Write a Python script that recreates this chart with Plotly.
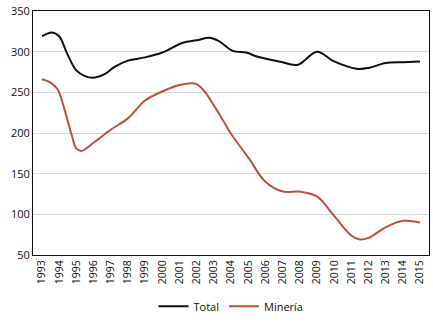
import plotly.graph_objects as go

years = [1993, 1993.6, 1994, 1994.5, 1995, 1995.5, 1996, 1996.7, 1997.2, 1998, 1999, 2000,
         2001.2, 2002, 2002.75, 2003.3, 2004.1, 2004.9, 2005.5, 2006.8, 2007.9, 2009,
         2010, 2011.3, 2012, 2013, 2014, 2015]
total = [319, 323.5, 319, 296, 277, 270, 268, 273, 281, 289, 293, 299,
         311, 314, 317, 313, 301, 299, 294, 288, 284, 300,
         288, 279, 280, 286, 287, 288]

years_m = [1993, 1993.5, 1993.9, 1994.3, 1994.75, 1995, 1995.3, 1996, 1997, 1998, 1999, 2000,
           2001, 2001.6, 2002, 2002.5, 2003, 2003.5, 2004, 2005, 2006, 2007, 2008, 2009,
           2010, 2011, 2011.5, 2012, 2013, 2014, 2015]
mineria = [266, 262, 254, 230, 196, 181, 178, 188, 204, 218, 240, 251,
           259, 261, 260, 250, 234, 217, 199, 170, 140, 128, 128, 122,
           98, 74, 69, 71, 84, 92, 90]

tick_years = list(range(1993, 2016))

fig = go.Figure()
fig.add_trace(go.Scatter(x=years, y=total, mode="lines", name="Total",
                         line=dict(color="#111111", width=2, shape="spline", smoothing=1.0)))
fig.add_trace(go.Scatter(x=years_m, y=mineria, mode="lines", name="Minería",
                         line=dict(color="#c0503a", width=2, shape="spline", smoothing=1.0)))

fig.update_layout(
    width=433, height=324,
    margin=dict(l=33, r=3, t=7, b=67),
    plot_bgcolor="white", paper_bgcolor="white",
    font=dict(family="Open Sans, sans-serif", size=11, color="#111111"),
    showlegend=True,
    legend=dict(orientation="h", x=0.5, xanchor="center", y=-0.21, yanchor="middle",
                font=dict(size=11), itemwidth=30),
    xaxis=dict(range=[1992.48, 2015.52], tickmode="array", tickvals=tick_years,
               ticktext=[str(y) for y in tick_years], tickangle=-90,
               showgrid=False, showline=True, linecolor="#111111", linewidth=1,
               mirror=True, ticks="", tickfont=dict(size=10.5), zeroline=False),
    yaxis=dict(range=[50, 350], tickmode="array",
               tickvals=[50, 100, 150, 200, 250, 300, 350],
               ticktext=["50", "100", "150", "200", "250", "300", "350"],
               ticklabeloverflow="allow",
               showgrid=True, gridcolor="#d9d9d9", gridwidth=1,
               showline=True, linecolor="#111111", linewidth=1, mirror=True,
               ticks="", tickfont=dict(size=11), zeroline=False),
)

fig.write_html("out.html")
